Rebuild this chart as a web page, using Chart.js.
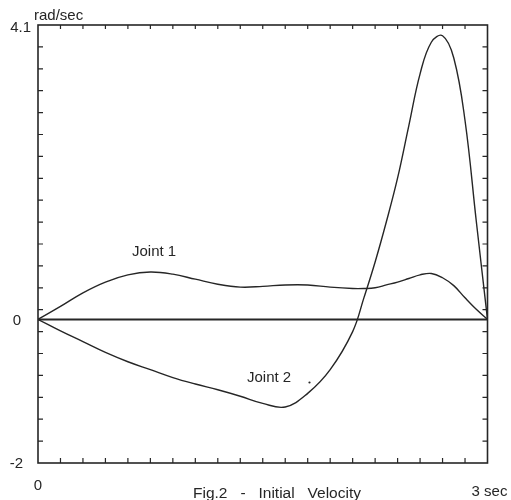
<!DOCTYPE html>
<html>
<head>
<meta charset="utf-8">
<script src="https://cdn.jsdelivr.net/npm/chart.js@4/dist/chart.umd.min.js"></script>
<style>
  html, body { margin: 0; padding: 0; background: #fff; }
  #wrap { width: 511px; height: 500px; position: relative; }
</style>
</head>
<body>
<div id="wrap"><canvas id="c" width="511" height="500"></canvas></div>
<script>
// time in seconds
const time = [0,0.15,0.3,0.45,0.6,0.75,0.9,1.05,1.2,1.35,1.5,1.65,1.8,1.95,2.1,2.175,2.25,2.325,2.4,2.475,2.55,2.625,2.7,2.775,2.85,2.925,3.0];
// rad/sec
const joint1 = [0,0.18,0.37,0.52,0.62,0.66,0.63,0.56,0.49,0.45,0.46,0.48,0.48,0.45,0.43,0.43,0.44,0.48,0.52,0.57,0.62,0.64,0.58,0.47,0.30,0.14,0];
const joint2 = [0,-0.16,-0.31,-0.46,-0.59,-0.70,-0.81,-0.90,-0.98,-1.07,-1.17,-1.22,-1.03,-0.70,-0.17,0.30,0.80,1.36,1.97,2.70,3.42,3.86,3.95,3.64,2.77,1.37,0];
const baseline = [0, 0];
const baselineTime = [0, 3];

const xTickValues = [0, 3];
const xTickLabels = ["0", "3 sec"];
const yTickValues = [4.1, 0, -2];
const yTickLabels = ["4.1", "0", "-2"];
const xMinorStep = 0.15;
const yMinorStep = 0.305;
const yUnit = "rad/sec";
const caption = "Fig.2   -   Initial   Velocity";
const seriesNames = ["Joint 1", "Joint 2"];

const ink = "#262626";

const toPts = (xs, ys) => xs.map((x, i) => ({ x: x, y: ys[i] }));

const framePlugin = {
  id: 'frame',
  afterDraw(chart) {
    const ctx = chart.ctx;
    const xs = chart.scales.x, ys = chart.scales.y;
    const a = chart.chartArea;
    ctx.save();
    ctx.strokeStyle = ink;
    ctx.lineWidth = 1.6;
    ctx.strokeRect(a.left, a.top, a.right - a.left, a.bottom - a.top);
    // minor ticks (inside)
    ctx.lineWidth = 1.2;
    ctx.beginPath();
    for (let i = 1; i < 20; i++) {
      const px = xs.getPixelForValue(i * xMinorStep);
      ctx.moveTo(px, a.bottom); ctx.lineTo(px, a.bottom - 5);
      ctx.moveTo(px, a.top); ctx.lineTo(px, a.top + 4);
      const py = ys.getPixelForValue(-2 + i * yMinorStep);
      ctx.moveTo(a.left, py); ctx.lineTo(a.left + 5, py);
      ctx.moveTo(a.right, py); ctx.lineTo(a.right - 5, py);
    }
    ctx.stroke();
    // tick labels
    ctx.fillStyle = ink;
    ctx.font = '15px "Liberation Sans", Arial, sans-serif';
    ctx.textBaseline = 'middle';
    ctx.textAlign = 'right';
    yTickValues.forEach((v, i) => {
      const py = ys.getPixelForValue(v);
      ctx.fillText(yTickLabels[i], i === 0 ? 31 : (i === 1 ? 21 : 23), py + (i === 0 ? 3 : 1));
    });
    ctx.textBaseline = 'alphabetic';
    ctx.textAlign = 'center';
    ctx.fillText(xTickLabels[0], xs.getPixelForValue(xTickValues[0]), 490);
    ctx.fillText(xTickLabels[1], xs.getPixelForValue(xTickValues[1]) + 2, 496);
    // unit label
    ctx.textAlign = 'left';
    ctx.fillText(yUnit, 34, 20);
    // caption
    ctx.font = '15.5px "Liberation Sans", Arial, sans-serif';
    ctx.fillText(caption, 193, 498);
    // series labels
    ctx.font = '15px "Liberation Sans", Arial, sans-serif';
    ctx.fillText(seriesNames[0], 132, 256);
    ctx.fillText(seriesNames[1], 247, 382);
    // stray dot
    ctx.beginPath();
    ctx.arc(309.5, 382.5, 1.1, 0, Math.PI * 2);
    ctx.fill();
    ctx.restore();
  }
};

new Chart(document.getElementById('c'), {
  type: 'line',
  data: {
    datasets: [
      { label: 'zero', data: toPts(baselineTime, baseline), borderColor: ink, borderWidth: 2, pointRadius: 0, tension: 0 },
      { label: seriesNames[0], data: toPts(time, joint1), borderColor: ink, borderWidth: 1.4, pointRadius: 0, tension: 0.4 },
      { label: seriesNames[1], data: toPts(time, joint2), borderColor: ink, borderWidth: 1.4, pointRadius: 0, tension: 0.4 }
    ]
  },
  options: {
    responsive: false,
    animation: false,
    layout: { padding: { left: 38, right: 23.5, top: 25, bottom: 37 } },
    plugins: { legend: { display: false }, tooltip: { enabled: false }, title: { display: false } },
    scales: {
      x: { type: 'linear', display: false, min: 0, max: 3 },
      y: { type: 'linear', display: false, min: -2, max: 4.1 }
    }
  },
  plugins: [framePlugin]
});
</script>
</body>
</html>
